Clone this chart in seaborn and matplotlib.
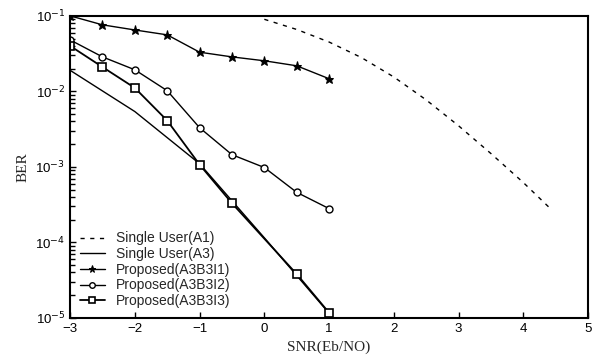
import pandas as pd
import matplotlib.pyplot as plt
import matplotlib.ticker as mticker
import seaborn as sns

# Data (BER vs SNR)
snr_a1 = [0, 0.5, 1, 1.5, 2, 2.5, 3, 3.5, 4, 4.4]
ber_a1 = [0.09, 0.066, 0.045, 0.028, 0.0155, 0.0077, 0.0035, 0.0015, 0.00062, 0.00029]

snr_a3 = [-3, -2, -1, 0, 1]
ber_a3 = [0.019, 0.0054, 0.0011, 0.000115, 1.15e-5]

snr_i1 = [-3, -2.5, -2, -1.5, -1, -0.5, 0, 0.5, 1]
ber_i1 = [0.1, 0.076, 0.065, 0.056, 0.033, 0.0286, 0.0254, 0.0218, 0.0147]

snr_i2 = [-3, -2.5, -2, -1.5, -1, -0.5, 0, 0.5, 1]
ber_i2 = [0.048, 0.0286, 0.0193, 0.0102, 0.0033, 0.00145, 0.00098, 0.00046, 0.00028]

snr_i3 = [-3, -2.5, -2, -1.5, -1, -0.5, 0.5, 1]
ber_i3 = [0.040, 0.021, 0.0111, 0.0041, 0.00107, 0.00033, 3.8e-5, 1.17e-5]

sns.set_style('ticks', {'ytick.minor.size': 3.5, 'ytick.direction': 'in',
                        'xtick.direction': 'in'})
plt.rcParams['font.family'] = ['Liberation Sans', 'DejaVu Sans']

fig = plt.figure(figsize=(5.94, 3.6), dpi=100)
ax = fig.add_axes([0.118, 0.117, 0.872, 0.839])

sns.lineplot(x=snr_a1, y=ber_a1, ax=ax, color='black', linewidth=1,
             linestyle=(0, (3, 4)), label='Single User(A1)')
sns.lineplot(x=snr_a3, y=ber_a3, ax=ax, color='black', linewidth=1,
             label='Single User(A3)')
sns.lineplot(x=snr_i1, y=ber_i1, ax=ax, color='black', linewidth=1,
             marker='*', markersize=6.5, markeredgecolor='black',
             label='Proposed(A3B3I1)')
sns.lineplot(x=snr_i2, y=ber_i2, ax=ax, color='black', linewidth=1,
             marker='o', markersize=5, markerfacecolor='white', markeredgecolor='black',
             markeredgewidth=1, label='Proposed(A3B3I2)')
sns.lineplot(x=snr_i3, y=ber_i3, ax=ax, color='black', linewidth=1.3,
             marker='s', markersize=6, markerfacecolor='white', markeredgecolor='black',
             markeredgewidth=1.2, label='Proposed(A3B3I3)')

ax.set_yscale('log')
ax.set_xlim(-3, 5)
ax.set_ylim(1e-5, 1e-1)
ax.set_xticks([-3, -2, -1, 0, 1, 2, 3, 4, 5])
ax.set_yticks([1e-1, 1e-2, 1e-3, 1e-4, 1e-5])
ax.set_yticklabels(['10$^{-1}$', '10$^{-2}$', '10$^{-3}$', '10$^{-4}$', '10$^{-5}$'])
ax.yaxis.set_minor_locator(mticker.LogLocator(base=10, subs=[2, 3, 4, 5, 6, 7, 8, 9], numticks=20))
ax.yaxis.set_minor_formatter(mticker.NullFormatter())
ax.tick_params(which='major', direction='in', labelsize=9.5, width=1, length=4, colors='black')
ax.tick_params(axis='y', which='minor', direction='in', length=3.5, width=1,
               left=True, color='black')
for s in ax.spines.values():
    s.set_linewidth(1.5)
    s.set_color('black')

ax.set_xlabel('SNR(Eb/NO)', family='Liberation Serif', fontsize=11)
ax.set_ylabel('BER', family='Liberation Serif', fontsize=11)

ax.legend(loc='lower left', frameon=False, fontsize=10, handlelength=1.8,
          labelspacing=0.12, borderaxespad=0.3, markerscale=0.8)

plt.savefig('out.png', dpi=100)
